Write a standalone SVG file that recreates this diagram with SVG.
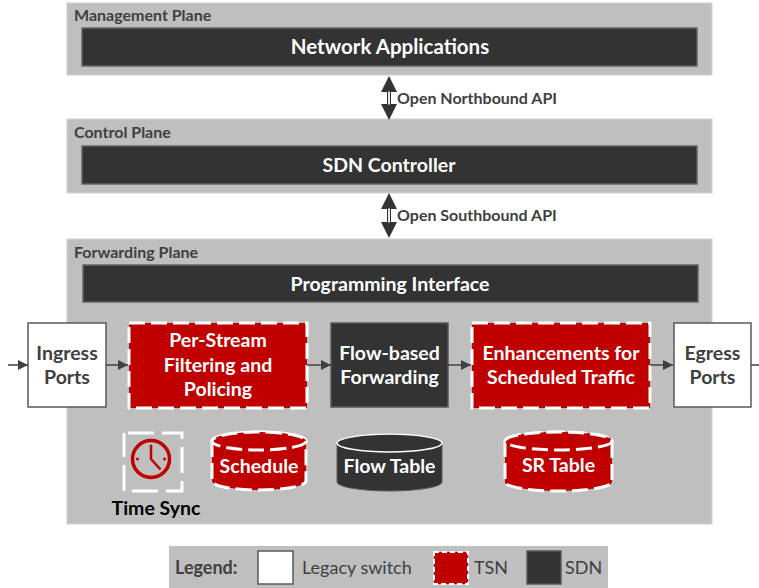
<svg xmlns="http://www.w3.org/2000/svg" width="759" height="588" viewBox="0 0 759 588">
<defs>
<marker id="ah2" viewBox="0 0 10 10" refX="10" refY="5" markerWidth="10" markerHeight="10" markerUnits="userSpaceOnUse" orient="auto"><path d="M0,0 L10,5 L0,10 z" fill="#404040"/></marker>
<style>
text{font-family:Lato,"Open Sans","Liberation Sans",sans-serif;font-weight:bold}
.plane{fill:#bfbfbf;stroke:#d0d0d0;stroke-width:1}
.bar{fill:#333;stroke:#666;stroke-width:1.5}
.lbl{font-size:16px;fill:#404040}
.wt{fill:#fff;font-size:19.5px;text-anchor:middle}
.dk{fill:#404040;font-size:19.5px;text-anchor:middle}
.leg{fill:#fff;stroke:#595959;stroke-width:1.5}
.sdn{fill:#333;stroke:#595959;stroke-width:1.5}
.tsn{fill:#c00000;stroke:#fff;stroke-width:3;stroke-dasharray:16 6}
.conn{stroke:#404040;stroke-width:1.5;fill:none;marker-end:url(#ah2)}
.api{fill:#333}
.lg{font-size:18px;fill:#404040}
</style>
</defs>

<g id="management-plane">
<rect class="plane" x="67" y="3" width="645" height="72"/>
<text class="lbl" x="74" y="21">Management Plane</text>
<rect class="bar" x="82" y="28" width="615" height="38"/>
<text class="wt" x="390" y="54" style="font-size:20.5px">Network Applications</text>
</g>

<g id="control-plane">
<rect class="plane" x="67" y="119" width="645" height="74"/>
<text class="lbl" x="74" y="138">Control Plane</text>
<rect class="bar" x="82" y="146" width="615" height="38"/>
<text class="wt" x="389" y="172">SDN Controller</text>
</g>

<g id="forwarding-plane">
<rect class="plane" x="67" y="239" width="645" height="285"/>
<text class="lbl" x="74" y="258">Forwarding Plane</text>
<rect class="bar" x="83" y="265" width="615" height="37"/>
<text class="wt" x="390" y="291">Programming Interface</text>
</g>

<g id="northbound-api">
<path class="api" d="M389,76 L397,92 L381,92 z M389,120 L397,104 L381,104 z"/>
<rect x="387.5" y="91" width="3" height="14" fill="#e8e8e8" stroke="#333" stroke-width="1"/>
<text x="397" y="104" font-size="16" fill="#404040">Open Northbound API</text>
</g>

<g id="southbound-api">
<path class="api" d="M389,193 L397,209 L381,209 z M389,238 L397,222 L381,222 z"/>
<rect x="387.5" y="208" width="3" height="15" fill="#e8e8e8" stroke="#333" stroke-width="1"/>
<text x="397" y="221" font-size="16" fill="#404040">Open Southbound API</text>
</g>

<g id="ingress-ports">
<rect class="leg" x="28" y="323" width="78" height="84"/>
<text class="dk" x="67" y="360">Ingress</text>
<text class="dk" x="67" y="384">Ports</text>
</g>

<g id="per-stream-filtering">
<rect class="tsn" x="129" y="323" width="178" height="85"/>
<text class="wt" x="218" y="347">Per-Stream</text>
<text class="wt" x="218" y="372">Filtering and</text>
<text class="wt" x="218" y="396">Policing</text>
</g>

<g id="flow-based-forwarding">
<rect class="sdn" x="331" y="323" width="117" height="84"/>
<text class="wt" x="389.5" y="360">Flow-based</text>
<text class="wt" x="389.5" y="384">Forwarding</text>
</g>

<g id="enhancements-scheduled-traffic">
<rect class="tsn" x="472" y="323" width="178" height="85"/>
<text class="wt" x="561" y="360">Enhancements for</text>
<text class="wt" x="561" y="384">Scheduled Traffic</text>
</g>

<g id="egress-ports">
<rect class="leg" x="674" y="323" width="77" height="84"/>
<text class="dk" x="712.5" y="360">Egress</text>
<text class="dk" x="712.5" y="384">Ports</text>
</g>

<g id="time-sync">
<rect x="124" y="433" width="58" height="58" fill="none" stroke="#fff" stroke-width="3" stroke-dasharray="26 8" stroke-dashoffset="-4"/>
<circle cx="151" cy="459" r="18.5" fill="none" stroke="#c00000" stroke-width="3.5"/>
<path d="M151,447 L151,459 L160.5,469.5" fill="none" stroke="#c00000" stroke-width="2.5"/>
<circle cx="151" cy="446" r="1.5" fill="#c00000"/>
<circle cx="137.5" cy="459" r="1.5" fill="#c00000"/>
<circle cx="164.5" cy="459" r="1.5" fill="#c00000"/>
<circle cx="151" cy="477" r="1.5" fill="#c00000"/>
<text x="156" y="515" font-size="19.5" fill="#000" text-anchor="middle">Time Sync</text>
</g>

<g id="schedule">
<path d="M212,441 L212,481 A47,9 0 0 0 306,481 L306,441 A47,9 0 0 0 212,441 z" class="tsn"/>
<ellipse cx="259" cy="441" rx="47" ry="9" class="tsn"/>
<text class="wt" x="259" y="473">Schedule</text>
</g>

<g id="flow-table">
<path d="M337,443 L337,482 A52.5,9 0 0 0 442,482 L442,443 A52.5,9 0 0 0 337,443 z" fill="#333" stroke="#595959" stroke-width="1"/>
<ellipse cx="389.5" cy="443" rx="52.5" ry="9" fill="#333" stroke="#fff" stroke-width="1.5"/>
<text class="wt" x="389.5" y="473">Flow Table</text>
</g>

<g id="sr-table">
<path d="M505,441 L505,482 A53.5,9 0 0 0 612,482 L612,441 A53.5,9 0 0 0 505,441 z" class="tsn"/>
<ellipse cx="558.5" cy="441" rx="53.5" ry="9" class="tsn"/>
<text class="wt" x="558.5" y="472">SR Table</text>
</g>

<g id="connectors">
<line class="conn" x1="8" y1="365" x2="28" y2="365"/>
<line class="conn" x1="106" y1="365" x2="128" y2="365"/>
<line class="conn" x1="307" y1="365" x2="331" y2="365"/>
<line class="conn" x1="448" y1="365" x2="471" y2="365"/>
<line class="conn" x1="650" y1="365" x2="673" y2="365"/>
<line class="conn" x1="751" y1="365" x2="769" y2="365"/>
</g>

<g id="legend">
<rect x="169" y="546" width="439" height="44" fill="#bfbfbf"/>
<text class="lg" x="175" y="574">Legend:</text>
<rect class="leg" x="258" y="551" width="35" height="33"/>
<text class="lg" x="302" y="574" style="font-weight:normal">Legacy switch</text>
<rect x="434" y="552" width="34" height="32" fill="#c00000" stroke="#fff" stroke-width="2" stroke-dasharray="5 3"/>
<text class="lg" x="474" y="574" style="font-weight:normal">TSN</text>
<rect class="sdn" x="527" y="551" width="34" height="33"/>
<text class="lg" x="565" y="574" style="font-weight:normal">SDN</text>
</g>
</svg>
